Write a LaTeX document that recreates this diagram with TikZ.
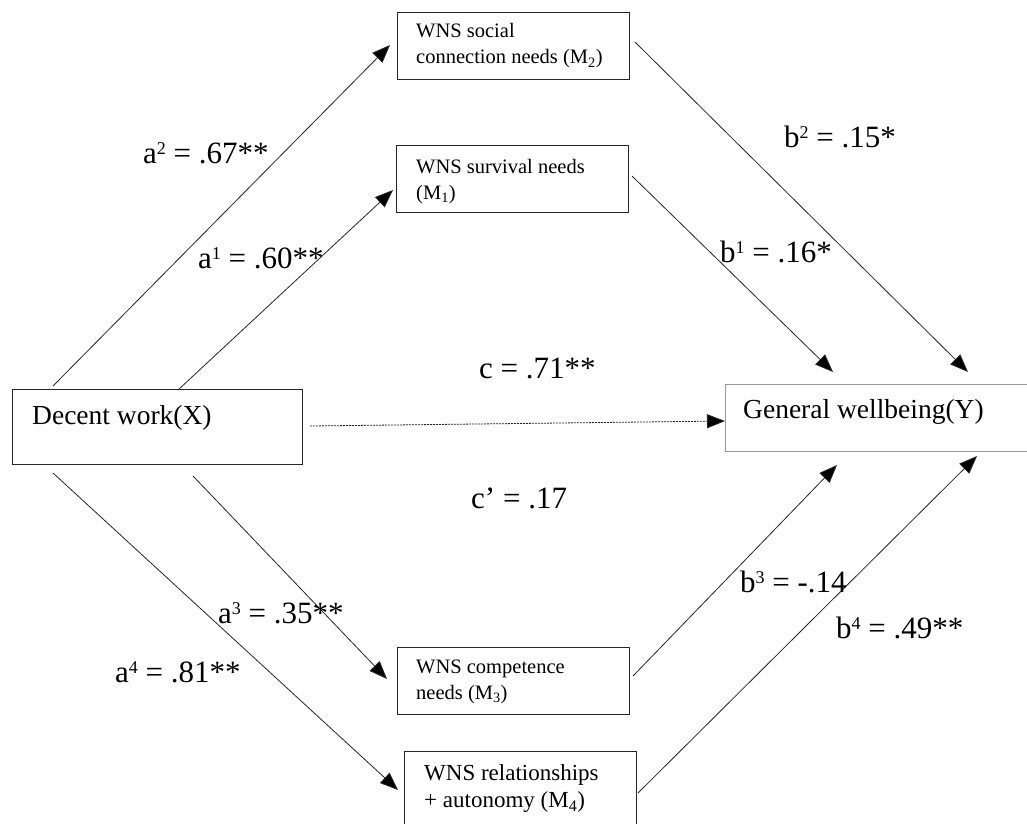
\documentclass[tikz,border=0pt]{standalone}
\usepackage{fontspec}
\setmainfont{Liberation Serif}
\usetikzlibrary{arrows.meta,calc}

% small raised index on the path coefficients
\newcommand\pathidx[1]{\raisebox{9pt}{\fontsize{18}{18}\selectfont #1}}

\begin{document}
\begin{tikzpicture}[x=1pt,y=-1pt,
  box/.style={draw=black!85, line width=1pt, inner sep=0pt, anchor=north west},
  softbox/.style={box, draw=black!40},
  varname/.style={font=\fontsize{27.5}{32}\selectfont, inner sep=0pt, anchor=west},
  medname/.style={font=\fontsize{20.5}{26}\selectfont, inner sep=0pt, anchor=west, align=left},
  bigmedname/.style={font=\fontsize{23}{27}\selectfont, inner sep=0pt, anchor=west, align=left},
  coef/.style={font=\fontsize{31}{34}\selectfont, inner sep=0pt, anchor=west},
  link/.style={draw=black!85, line width=0.8pt, -{Triangle[length=18pt,width=14pt,fill=black]}},
  direct/.style={link, dash pattern=on 2pt off 1pt}]

% page frame
\fill[white] (0,0) rectangle (1027,823);
\useasboundingbox (0,0) rectangle (1027,823);

% predictor and outcome
\node[box, minimum width=290pt, minimum height=75pt] (X) at (12,389) {};
\node[varname] (Xt) at (32,418) {Decent work(X)};
\node[softbox, minimum width=320pt, minimum height=67pt] (Y) at (725,384) {};
\node[varname] (Yt) at (743,412) {General wellbeing(Y)};

% mediators
\node[box, minimum width=232pt, minimum height=67pt] (M2) at (397,12) {};
\node[medname] (M2t) at (416,46) {WNS social\\connection needs (M\textsubscript{2})};
\node[box, minimum width=232pt, minimum height=67pt] (M1) at (396,145) {};
\node[medname] (M1t) at (416,181.5) {WNS survival needs\\(M\textsubscript{1})};
\node[box, minimum width=232pt, minimum height=67pt] (M3) at (397,647) {};
\node[medname] (M3t) at (416,682) {WNS competence\\needs (M\textsubscript{3})};
\node[box, minimum width=232pt, minimum height=95pt] (M4) at (404,751) {};
\node[bigmedname] (M4t) at (424,788.5) {WNS relationships\\+ autonomy (M\textsubscript{4})};

% a paths
\draw[link] ($(X.north west)+(41,-3)$) -- ($(M2.north west)+(-7,33)$);
\draw[link] ($(X.north west)+(166,1)$) -- ($(M1.north west)+(-3,45)$);
\draw[link] ($(X.south west)+(181,11)$) -- ($(M3.north west)+(-10,32)$);
\draw[link] ($(X.south west)+(41,8)$) -- ($(M4.north west)+(-6,39)$);

% b paths
\draw[link] ($(M2.north east)+(5,30)$) -- ($(Y.north west)+(243,-12)$);
\draw[link] ($(M1.north east)+(3,31)$) -- ($(Y.north west)+(108,-12)$);
\draw[link] ($(M3.north east)+(3,29)$) -- ($(Y.south west)+(112,13)$);
\draw[link] ($(M4.north east)+(1,42)$) -- ($(Y.south west)+(252,4)$);

% direct path
\draw[direct] ($(X.north east)+(7,37)$) -- ($(Y.north west)+(0,37)$);

% coefficients
\node[coef] (la2) at (143,153) {a\pathidx{2} = .67**};
\node[coef] (la1) at (198,258) {a\pathidx{1} = .60**};
\node[coef] (la3) at (218,613) {a\pathidx{3} = .35**};
\node[coef] (la4) at (115,672) {a\pathidx{4} = .81**};
\node[coef] (lb2) at (784,137) {b\pathidx{2} = .15*};
\node[coef] (lb1) at (720,252) {b\pathidx{1} = .16*};
\node[coef] (lb3) at (740,582) {b\pathidx{3} = -.14};
\node[coef] (lb4) at (836,628) {b\pathidx{4} = .49**};
\node[coef] (lc) at (479,368) {c = .71**};
\node[coef] (lcp) at (471,498) {c’ = .17};

\end{tikzpicture}
\end{document}
